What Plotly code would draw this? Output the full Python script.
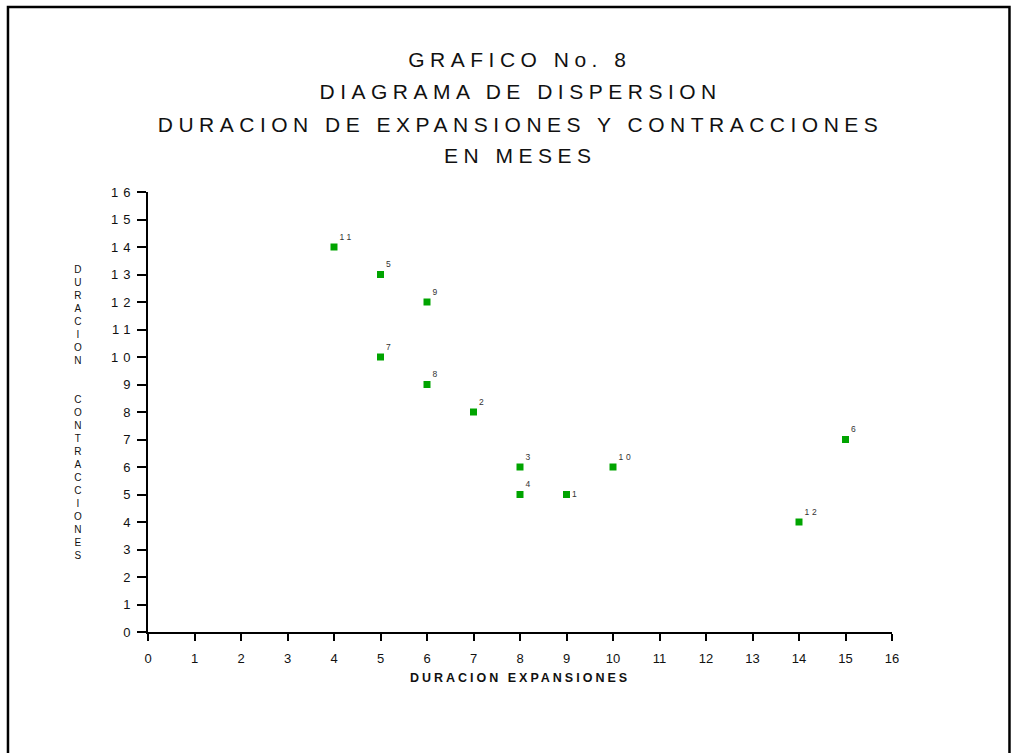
import plotly.graph_objects as go

# Data
point_labels = ["1", "2", "3", "4", "5", "6", "7", "8", "9", "10", "11", "12"]
expansiones = [9, 7, 8, 8, 5, 15, 5, 6, 6, 10, 4, 14]
contracciones = [5, 8, 6, 5, 13, 7, 10, 9, 12, 6, 14, 4]
x_ticks = list(range(0, 17))
y_ticks = list(range(0, 17))
title_lines = ["GRAFICO No. 8", "DIAGRAMA DE DISPERSION",
               "DURACION DE EXPANSIONES Y CONTRACCIONES", "EN MESES"]
x_title = "DURACION EXPANSIONES"
y_title = "DURACION  CONTRACCIONES"

W, H = 1011, 753
L, R, T, B = 148, 119, 192, 121
PW, PH = W - L - R, H - T - B

def px_x(px):
    return (px - L) / PW

def px_y(py):
    return (H - B - py) / PH

font_family = "Liberation Sans, Arial, sans-serif"

text_pos = ["middle right" if lab == "1" else "top right" for lab in point_labels]

fig = go.Figure()
fig.add_trace(go.Scatter(
    x=expansiones, y=contracciones, mode="markers+text",
    text=point_labels, textposition=text_pos,
    textfont=dict(family=font_family, size=8.5, color="#333333"),
    marker=dict(symbol="square", size=7, color="#00a400", line=dict(width=0)),
    cliponaxis=False, hoverinfo="x+y+text", showlegend=False,
))

annotations = []
title_centers = [60, 92, 124.5, 155]
for line, cy in zip(title_lines, title_centers):
    annotations.append(dict(
        text=line, xref="paper", yref="paper", x=0.5, y=px_y(cy),
        xanchor="center", yanchor="middle", showarrow=False,
        font=dict(family=font_family, size=21, color="#111111"),
    ))

stacked = "<br>".join(ch if ch != " " else "" for ch in y_title)
annotations.append(dict(
    text=stacked, xref="paper", yref="paper", x=px_x(78), y=px_y(412),
    xanchor="center", yanchor="middle", showarrow=False, align="center",
    font=dict(family=font_family, size=10, color="#111111"),
))

fig.update_layout(
    width=W, height=H, margin=dict(l=L, r=R, t=T, b=B),
    paper_bgcolor="white", plot_bgcolor="white",
    font=dict(family=font_family, color="#111111"),
    annotations=annotations,
    shapes=[dict(
        type="path", xref="paper", yref="paper",
        path="M {:.4f} {:.4f} L {:.4f} {:.4f} L {:.4f} {:.4f} L {:.4f} {:.4f}".format(
            px_x(8), px_y(760), px_x(8), px_y(7), px_x(1009.5), px_y(7), px_x(1009.5), px_y(760)),
        line=dict(color="black", width=2.5),
    )],
    xaxis=dict(
        range=[0, 16], tickmode="array", tickvals=x_ticks,
        ticktext=[str(v) for v in x_ticks],
        showline=True, linecolor="black", linewidth=2,
        ticks="outside", ticklen=7, tickwidth=2, tickcolor="black",
        showgrid=False, zeroline=False, ticklabelstandoff=6,
        tickfont=dict(family=font_family, size=13, color="#111111"),
        title=dict(text=x_title, standoff=9,
                   font=dict(family=font_family, size=12.5, color="#111111", weight="bold")),
    ),
    yaxis=dict(
        range=[0, 16], tickmode="array", tickvals=y_ticks,
        ticktext=[str(v) for v in y_ticks],
        showline=True, linecolor="black", linewidth=2,
        ticks="outside", ticklen=9, tickwidth=2, tickcolor="black",
        showgrid=False, zeroline=False, ticklabelstandoff=-1,
        tickfont=dict(family=font_family, size=13, color="#111111"),
    ),
)

post = """
var gd = document.getElementById('{plot_id}');
function applySpacing() {
  var anns = gd.querySelectorAll('g.annotation text.annotation-text');
  for (var i = 0; i < 4 && i < anns.length; i++) { anns[i].style.letterSpacing = '5.5px'; }
  gd.querySelectorAll('.yaxislayer-above text, .ytick text').forEach(function(t){
    t.style.letterSpacing = '5px';
    t.setAttribute('letter-spacing', '5');
  });
  gd.querySelectorAll('text.xtitle').forEach(function(t){ t.style.letterSpacing = '3px'; });
  gd.querySelectorAll('.textpoint text').forEach(function(t){ t.style.letterSpacing = '3px'; });
}
applySpacing();
setTimeout(applySpacing, 50);
setTimeout(applySpacing, 300);
"""

fig.write_html("out.html", post_script=post)
